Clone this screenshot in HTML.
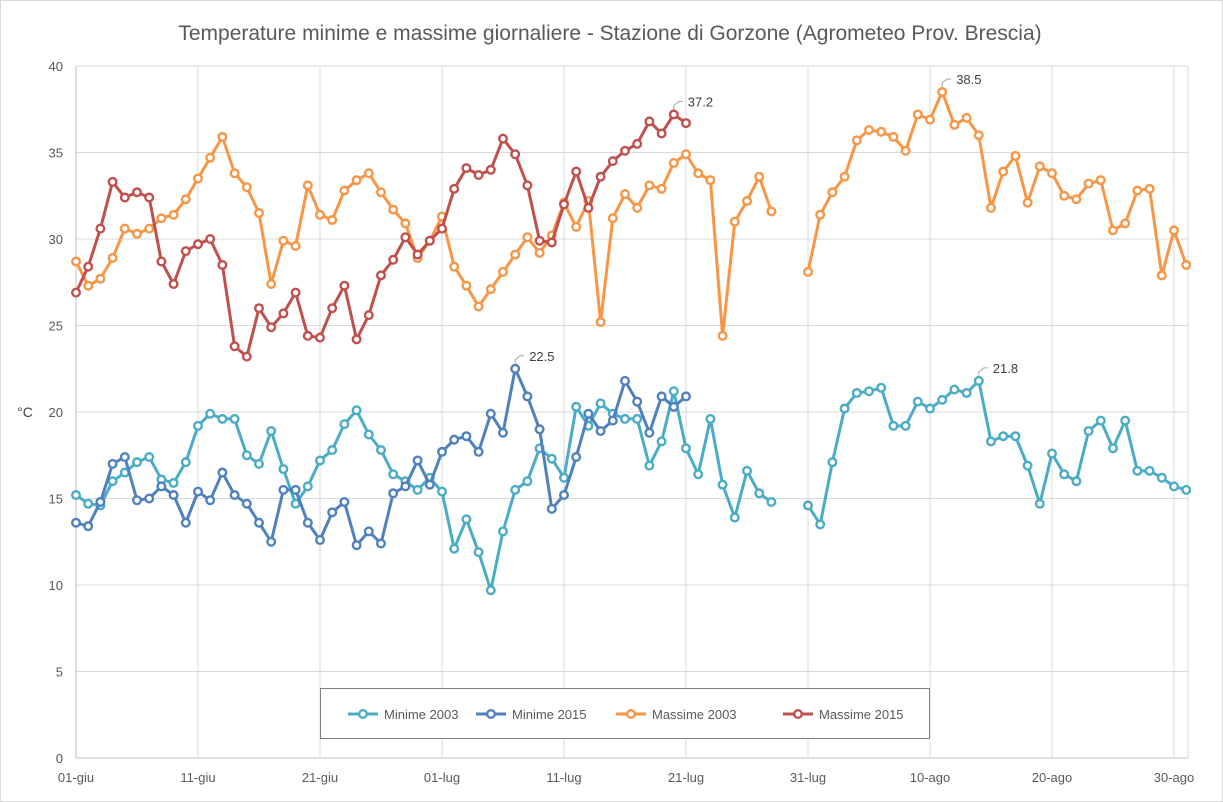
<!DOCTYPE html>
<html><head><meta charset="utf-8"><style>
body{margin:0;background:#fff}
svg{display:block;font-family:"Liberation Sans",sans-serif}
</style></head><body>
<svg id="chart" width="1223" height="802" viewBox="0 0 1223 802">
<rect x="0.5" y="0.5" width="1222" height="801" fill="#fff" stroke="#d9d9d9"/>
<text x="610" y="40" text-anchor="middle" font-size="21" fill="#595959">Temperature minime e massime giornaliere - Stazione di Gorzone (Agrometeo Prov. Brescia)</text>
<text x="25" y="417" text-anchor="middle" font-size="14" fill="#404040">°C</text>
<g id="grid"></g><g id="axes"></g><g id="series"></g><g id="labels"></g>
<g>
<rect x="320.5" y="688.5" width="609" height="50" fill="#fff" stroke="#7f7f7f"/>
</g>
<g id="legend"></g>
</svg>
<script>
const xLabels=["01-giu","11-giu","21-giu","01-lug","11-lug","21-lug","31-lug","10-ago","20-ago","30-ago"];
const yTicks=[0,5,10,15,20,25,30,35,40];
const seriesNames=["Minime 2003","Minime 2015","Massime 2003","Massime 2015"];
const seriesColors=["#4bacc6","#4f81bd","#f79646","#c0504d"];
const N=null;
const min2003=[15.2,14.7,14.6,16.0,16.5,17.1,17.4,16.1,15.9,17.1,19.2,19.9,19.6,19.6,17.5,17.0,18.9,16.7,14.7,15.7,17.2,17.8,19.3,20.1,18.7,17.8,16.4,16.0,15.5,16.2,15.4,12.1,13.8,11.9,9.7,13.1,15.5,16.0,17.9,17.3,16.2,20.3,19.2,20.5,19.9,19.6,19.6,16.9,18.3,21.2,17.9,16.4,19.6,15.8,13.9,16.6,15.3,14.8,N,N,14.6,13.5,17.1,20.2,21.1,21.2,21.4,19.2,19.2,20.6,20.2,20.7,21.3,21.1,21.8,18.3,18.6,18.6,16.9,14.7,17.6,16.4,16.0,18.9,19.5,17.9,19.5,16.6,16.6,16.2,15.7,15.5];
const min2015=[13.6,13.4,14.8,17.0,17.4,14.9,15.0,15.7,15.2,13.6,15.4,14.9,16.5,15.2,14.7,13.6,12.5,15.5,15.5,13.6,12.6,14.2,14.8,12.3,13.1,12.4,15.3,15.7,17.2,15.8,17.7,18.4,18.6,17.7,19.9,18.8,22.5,20.9,19.0,14.4,15.2,17.4,19.9,18.9,19.5,21.8,20.6,18.8,20.9,20.3,20.9];
const max2003=[28.7,27.3,27.7,28.9,30.6,30.3,30.6,31.2,31.4,32.3,33.5,34.7,35.9,33.8,33.0,31.5,27.4,29.9,29.6,33.1,31.4,31.1,32.8,33.4,33.8,32.7,31.7,30.9,28.9,29.9,31.3,28.4,27.3,26.1,27.1,28.1,29.1,30.1,29.2,30.2,32.1,30.7,32.2,25.2,31.2,32.6,31.8,33.1,32.9,34.4,34.9,33.8,33.4,24.4,31.0,32.2,33.6,31.6,N,N,28.1,31.4,32.7,33.6,35.7,36.3,36.2,35.9,35.1,37.2,36.9,38.5,36.6,37.0,36.0,31.8,33.9,34.8,32.1,34.2,33.8,32.5,32.3,33.2,33.4,30.5,30.9,32.8,32.9,27.9,30.5,28.5];
const max2015=[26.9,28.4,30.6,33.3,32.4,32.7,32.4,28.7,27.4,29.3,29.7,30.0,28.5,23.8,23.2,26.0,24.9,25.7,26.9,24.4,24.3,26.0,27.3,24.2,25.6,27.9,28.8,30.1,29.1,29.9,30.6,32.9,34.1,33.7,34.0,35.8,34.9,33.1,29.9,29.8,32.0,33.9,31.8,33.6,34.5,35.1,35.5,36.8,36.1,37.2,36.7];
const allSeries=[min2003,min2015,max2003,max2015];
const X0=76,DX=12.2,Y0=758,DY=17.3,XR=1188;
const xs=i=>X0+DX*i, ys=v=>Y0-DY*v;
const NS="http://www.w3.org/2000/svg";
function mk(tag,attrs,parent){const e=document.createElementNS(NS,tag);for(const k in attrs)e.setAttribute(k,attrs[k]);parent.appendChild(e);return e;}
const grid=document.getElementById('grid'),axes=document.getElementById('axes');
yTicks.forEach(t=>{
 if(t>0){const l=mk('line',{x1:X0,x2:XR,y1:ys(t),y2:ys(t),stroke:'#d9d9d9'},grid);
 
 }
 const tx=mk('text',{x:63,y:ys(t)+5,'text-anchor':'end','font-size':13,fill:'#595959'},axes);
 tx.textContent=t;
 
 
});
xLabels.forEach((lb,k)=>{
 const x=xs(k*10);
 if(k>0){const l=mk('line',{x1:x,x2:x,y1:ys(40),y2:Y0,stroke:'#d9d9d9'},grid);
 
 }
 const tx=mk('text',{x:x,y:782,'text-anchor':'middle','font-size':13,fill:'#595959'},axes);
 tx.textContent=lb;
 
 
});
const rl=mk('line',{x1:XR,x2:XR,y1:ys(40),y2:Y0,stroke:'#d9d9d9'},grid);


const ya=mk('line',{x1:X0,x2:X0,y1:ys(40),y2:Y0,stroke:'#bfbfbf'},axes);


const xa=mk('line',{x1:X0,x2:XR,y1:Y0,y2:Y0,stroke:'#bfbfbf'},axes);


const sg=document.getElementById('series');
allSeries.forEach((data,si)=>{
 const g=mk('g',{},sg);
 
 
 let d='',pen=false;
 data.forEach((v,i)=>{if(v===null){pen=false;return;}d+=(pen?'L':'M')+xs(i)+' '+ys(v)+' ';pen=true;});
 const p=mk('path',{d:d,fill:'none',stroke:seriesColors[si],'stroke-width':3,'stroke-linejoin':'round'},g);
 
 
 data.forEach((v,i)=>{if(v===null)return;
  const c=mk('circle',{cx:xs(i),cy:ys(v),r:3.8,fill:'#fff',stroke:seriesColors[si],'stroke-width':2.4},g);
  
  
 });
});
const lg=document.getElementById('labels');
allSeries.forEach((data,si)=>{
 let mi=0;data.forEach((v,i)=>{if(v!==null&&v>data[mi])mi=i;});
 const x=xs(mi),y=ys(data[mi]);
 const pl=mk('polyline',{points:`${x},${y-5} ${x},${y-9} ${x+5},${y-13} ${x+9},${y-13}`,fill:'none',stroke:'#a6a6a6'},lg);
 
 
 const t=mk('text',{x:x+14,y:y-8,'font-size':13,fill:'#404040'},lg);
 t.textContent=data[mi].toFixed(1);
 
 
});
const leg=document.getElementById('legend');
const lx=[348,476,616,783];
seriesNames.forEach((n,si)=>{
 const g=mk('g',{},leg);
 
 
 mk('line',{x1:lx[si],x2:lx[si]+30,y1:714,y2:714,stroke:seriesColors[si],'stroke-width':3},g);
 mk('circle',{cx:lx[si]+15,cy:714,r:3.8,fill:'#fff',stroke:seriesColors[si],'stroke-width':2.4},g);
 const t=mk('text',{x:lx[si]+36,y:719,'font-size':13,fill:'#595959'},g);
 t.textContent=n;
});
</script>
</body></html>
